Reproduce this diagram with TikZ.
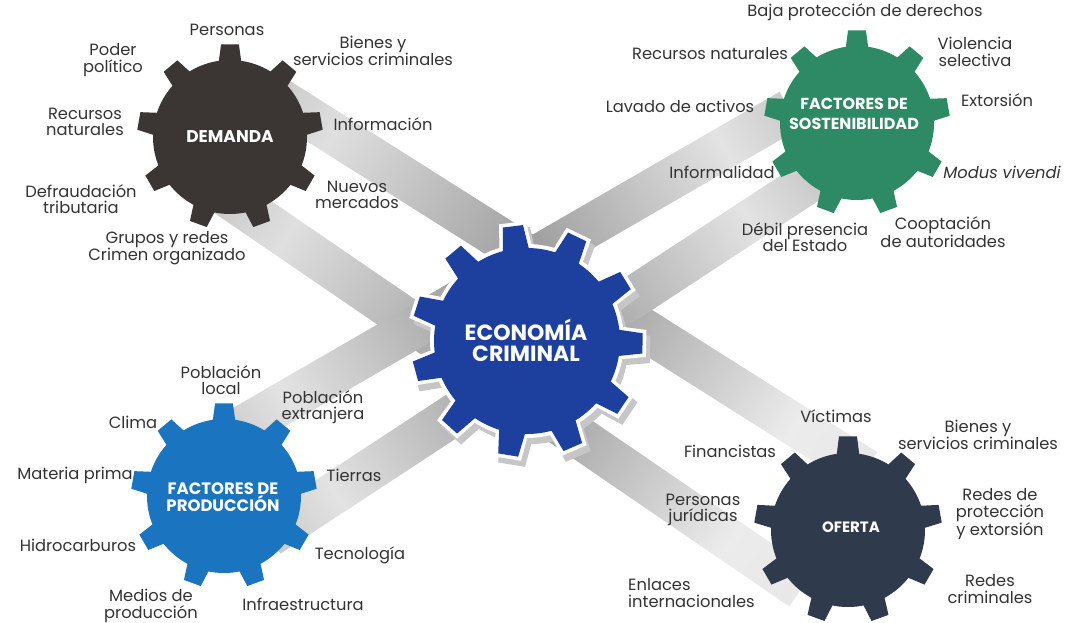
\documentclass[tikz,border=0pt]{standalone}
\usepackage{fontspec}
\setmainfont{Poppins}
\usetikzlibrary{calc}
\definecolor{demcol}{HTML}{3B3634}
\definecolor{sostcol}{HTML}{2E8A64}
\definecolor{prodcol}{HTML}{1B74BF}
\definecolor{ofcol}{HTML}{2F3A4C}
\definecolor{ecocol}{HTML}{1D3F9E}
\definecolor{txtcol}{HTML}{333333}
\pgfdeclarehorizontalshading{bandsym}{100bp}{color(0bp)=(gray!85); color(25bp)=(gray!22); color(50bp)=(gray!85); color(75bp)=(gray!22); color(100bp)=(gray!85)}
\pgfdeclarehorizontalshading{bandasym}{100bp}{color(0bp)=(gray!85); color(25bp)=(gray!25); color(50bp)=(gray!85); color(75bp)=(gray!15); color(100bp)=(gray!25)}
\newcommand{\gearfill}[8]{%
  \fill[#8] (#1) circle ({#2*1pt});
  \foreach \k in {1,...,#4}{%
    \pgfmathsetmacro{\ga}{#5+360*(\k-1)/#4}%
    \fill[#8] ($(#1)+({\ga-#6}:{#2-3})$) -- ($(#1)+({\ga-#7}:#3)$) -- ($(#1)+({\ga+#7}:#3)$) -- ($(#1)+({\ga+#6}:{#2-3})$) -- cycle;
  }%
}
\newcommand{\bandfill}[4]{%
  \shade[shading=#3, shading angle=#4] ($(#1)!21pt!90:(#2)$) -- ($(#2)!21pt!-90:(#1)$) -- ($(#2)!21pt!90:(#1)$) -- ($(#1)!21pt!-90:(#2)$) -- cycle;
}
\begin{document}
\begin{tikzpicture}[x=1pt,y=-1pt,
  lbl/.style={font=\fontsize{16.3}{16.5}\selectfont, text=txtcol, align=center, inner sep=0pt},
  glbl/.style={font=\fontsize{16}{19.5}\selectfont\bfseries, text=white, align=center, inner sep=0pt}]
\fill[white] (0,0) rectangle (1066,622);
\useasboundingbox (0,0) rectangle (1066,622);
% gear centres
\coordinate (demc) at (230,137);
\coordinate (sostc) at (857,123);
\coordinate (prodc) at (224,496);
\coordinate (ofc) at (848,530);
\coordinate (ecoc) at (527,341);
\coordinate (ecosh) at (531,347);
% band ends
\coordinate (aS) at (262,88);  \coordinate (aE) at (866,470);
\coordinate (bS) at (223,438); \coordinate (bE) at (790,110);
\coordinate (cS) at (269,536); \coordinate (cE) at (815,178);
\coordinate (dS) at (215,188); \coordinate (dE) at (801,589);
% bands
\bandfill{aS}{aE}{bandasym}{-32.3}
\bandfill{dS}{dE}{bandasym}{-34.4}
\bandfill{bS}{bE}{bandsym}{30}
\bandfill{cS}{cE}{bandsym}{33.2}
% outer gears
\gearfill{demc}{77}{93}{9}{-90}{9}{5.5}{demcol}
\gearfill{sostc}{77}{93}{9}{-90}{9}{5.5}{sostcol}
\gearfill{prodc}{77}{93}{9}{-90}{9}{5.5}{prodcol}
\gearfill{ofc}{77}{94}{9}{-90}{9}{5.5}{ofcol}
% central gear
\gearfill{ecosh}{97}{120}{11}{-97}{10}{6.5}{gray!45}
\gearfill{ecoc}{97}{120}{11}{-97}{10}{6.5}{white}
\gearfill{ecoc}{93}{116}{11}{-97}{8.6}{5}{ecocol}
% gear labels
\node[glbl, font=\fontsize{17}{19.5}\selectfont\bfseries] (dem) at (230,137) {DEMANDA};
\node[glbl] (sost) at (854,114) {FACTORES DE\\SOSTENIBILIDAD};
\node[glbl, font=\fontsize{16.5}{17}\selectfont\bfseries] (prod) at (223,497) {FACTORES DE\\PRODUCCIÓN};
\node[glbl, font=\fontsize{15}{19}\selectfont\bfseries] (of) at (851,527) {OFERTA};
\node[glbl, font=\fontsize{22}{21}\selectfont\bfseries] (eco) at (526,340) {ECONOMÍA\\CRIMINAL};
% DEMANDA labels
\node[lbl] (d1) at (227,30) {Personas};
\node[lbl] (d2) at (113,60) {Poder\\político};
\node[lbl] (d3) at (373,51) {Bienes y\\servicios criminales};
\node[lbl] (d4) at (85,122) {Recursos\\naturales};
\node[lbl] (d5) at (383,124) {Información};
\node[lbl] (d6) at (81,199) {Defraudación\\tributaria};
\node[lbl] (d7) at (357,195) {Nuevos\\mercados};
\node[lbl] (d8) at (167,248) {Grupos y redes\\Crimen organizado};
% SOSTENIBILIDAD labels
\node[lbl] (s1) at (865,12) {Baja protección de derechos};
\node[lbl] (s2) at (710,54) {Recursos naturales};
\node[lbl] (s3) at (975,52) {Violencia\\selectiva};
\node[lbl] (s4) at (680,106) {Lavado de activos};
\node[lbl] (s5) at (997,100) {Extorsión};
\node[lbl] (s6) at (722,172) {Informalidad};
\node[lbl, font=\fontsize{16.3}{16.5}\selectfont\itshape] (s7) at (1002,172) {Modus vivendi};
\node[lbl] (s8) at (805,237) {Débil presencia\\del Estado};
\node[lbl] (s9) at (943,232) {Cooptación\\de autoridades};
% PRODUCCION labels
\node[lbl] (p1) at (221,380) {Población\\local};
\node[lbl] (p2) at (323,407) {Población\\extranjera};
\node[lbl] (p3) at (133,422) {Clima};
\node[lbl] (p4) at (75,475) {Materia prima};
\node[lbl] (p5) at (354,475) {Tierras};
\node[lbl] (p6) at (78,545) {Hidrocarburos};
\node[lbl] (p7) at (360,555) {Tecnología};
\node[lbl] (p8) at (151,606) {Medios de\\producción};
\node[lbl] (p9) at (303,604) {Infraestructura};
% OFERTA labels
\node[lbl] (o1) at (836,416) {Víctimas};
\node[lbl] (o2) at (978,435) {Bienes y\\servicios criminales};
\node[lbl] (o3) at (730,451) {Financistas};
\node[lbl] (o4) at (1000,514) {Redes de\\protección\\y extorsión};
\node[lbl] (o5) at (703,510) {Personas\\jurídicas};
\node[lbl, align=left, anchor=west] (o6) at (628,593) {Enlaces\\internacionales};
\node[lbl] (o7) at (990,589) {Redes\\criminales};
\end{tikzpicture}
\end{document}
